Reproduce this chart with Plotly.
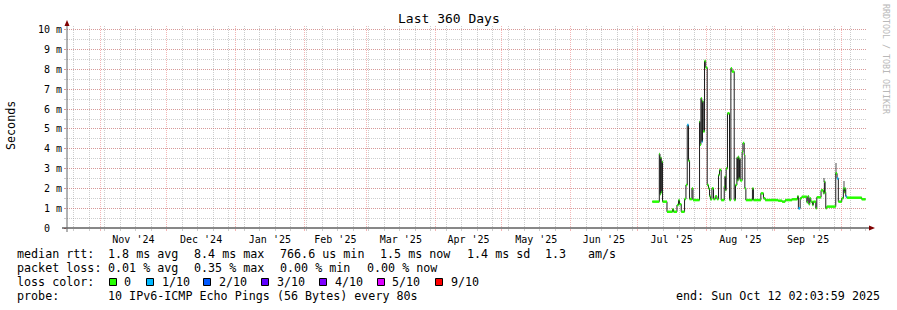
import plotly.graph_objects as go

# ---------------- data ----------------
range_start = "2024-10-17 02:03:59"
range_end = "2025-10-12 02:03:59"

times = [
    "2025-07-07 19:00", "2025-07-10 23:00", "2025-07-11 06:00", "2025-07-11 13:00",
    "2025-07-11 20:00", "2025-07-12 03:00", "2025-07-12 10:00", "2025-07-14 10:00",
    "2025-07-16 22:00", "2025-07-17 09:00", "2025-07-18 22:00", "2025-07-19 15:00",
    "2025-07-20 02:00", "2025-07-20 20:00", "2025-07-22 08:00", "2025-07-22 23:00",
    "2025-07-23 13:00", "2025-07-24 03:00", "2025-07-24 14:00", "2025-07-25 16:00",
    "2025-07-26 03:00", "2025-07-29 02:00", "2025-07-29 07:00", "2025-07-29 17:00",
    "2025-07-30 02:00", "2025-07-30 10:00", "2025-07-30 18:00", "2025-07-31 08:00",
    "2025-07-31 21:00", "2025-08-01 13:00", "2025-08-02 03:00", "2025-08-02 14:00",
    "2025-08-03 01:00", "2025-08-03 16:00", "2025-08-04 09:00", "2025-08-05 04:00",
    "2025-08-05 22:00", "2025-08-06 15:00", "2025-08-07 02:00", "2025-08-07 20:00",
    "2025-08-09 05:00", "2025-08-09 12:00", "2025-08-09 19:00", "2025-08-10 02:00",
    "2025-08-10 16:00", "2025-08-11 14:00", "2025-08-12 05:00", "2025-08-12 16:00",
    "2025-08-13 17:00", "2025-08-14 07:00", "2025-08-14 22:00", "2025-08-15 04:00",
    "2025-08-15 12:00", "2025-08-15 19:00", "2025-08-16 02:00", "2025-08-16 10:00",
    "2025-08-17 07:00", "2025-08-17 15:00", "2025-08-18 05:00", "2025-08-18 12:00",
    "2025-08-18 23:00", "2025-08-21 22:00", "2025-08-22 09:00", "2025-08-25 17:00",
    "2025-08-26 21:00", "2025-08-27 16:00", "2025-09-02 12:00", "2025-09-04 07:00",
    "2025-09-05 16:00", "2025-09-08 19:00", "2025-09-11 05:00", "2025-09-11 15:00",
    "2025-09-12 10:00", "2025-09-13 04:00", "2025-09-15 10:00", "2025-09-15 21:00",
    "2025-09-16 08:00", "2025-09-16 18:00", "2025-09-17 05:00", "2025-09-17 23:00",
    "2025-09-18 09:00", "2025-09-19 11:00", "2025-09-19 22:00", "2025-09-21 20:00",
    "2025-09-22 21:00", "2025-09-23 08:00", "2025-09-23 16:00", "2025-09-23 23:00",
    "2025-09-24 10:00", "2025-09-28 11:00", "2025-09-29 01:00", "2025-09-29 15:00",
    "2025-10-01 04:00", "2025-10-01 21:00", "2025-10-02 08:00", "2025-10-02 16:00",
    "2025-10-02 23:00", "2025-10-03 10:00", "2025-10-10 04:00", "2025-10-11 21:00",
]

median_ms = [
    1.33, 3.74, 1.70, 3.55,
    1.80, 3.35, 1.33, 0.82,
    0.95, 0.82, 1.16, 1.41,
    1.20, 0.82, 1.46, 2.17,
    5.20, 3.40, 1.46, 2.00,
    1.41, 5.37, 4.20, 6.55,
    4.36, 6.40, 4.87, 8.43,
    8.10, 2.17, 2.00, 1.60,
    1.45, 2.00, 1.46, 1.60,
    1.46, 2.68, 2.93, 1.41,
    2.10, 2.60, 1.90, 3.01,
    5.79, 1.41, 8.07, 7.90,
    1.41, 2.17, 3.55, 2.40,
    3.60, 2.50, 3.50, 2.40,
    3.85, 4.29, 3.69, 2.00,
    1.41, 2.00, 1.41, 1.75,
    1.50, 1.41, 1.38, 1.33,
    1.41, 1.45, 1.60, 0.99,
    1.50, 1.58, 1.30, 1.60,
    1.20, 1.50, 1.33, 1.16,
    1.33, 1.00, 1.55, 1.90,
    1.75, 2.34, 1.80, 1.00,
    1.08, 2.76, 2.50, 1.33,
    1.50, 2.00, 1.80, 2.00,
    1.60, 1.53, 1.45, 1.45,
]

# packet loss (tenths) per sample
loss_tenths = [0] * len(median_ms)
for _i in (16, 24, 71, 90, 96):
    loss_tenths[_i] = 1

smoke_times = ["2025-09-23 08:00", "2025-09-28 11:00", "2025-10-02 08:00"]
smoke_lo = [2.30, 2.70, 2.00]
smoke_hi = [2.55, 3.30, 2.36]

loss_labels = ["0", "1/10", "2/10", "3/10", "4/10", "5/10", "9/10"]
loss_colors = ["#26ff00", "#00b8ff", "#0059ff", "#5e00ff", "#7e00ff", "#dd00ff", "#ff0000"]
loss_index = [0, 1, 2, 3, 4, 5, 9]

y_tickvals = [0, 1, 2, 3, 4, 5, 6, 7, 8, 9, 10]
y_ticktext = ["0\u00a0\u00a0", "1 m", "2 m", "3 m", "4 m", "5 m", "6 m", "7 m", "8 m", "9 m", "10 m"]

# ---------------- layout geometry ----------------
W, H = 897, 310
L, R, T, B = 67, 866, 26, 228
FONT = "DejaVu Sans Mono"
MGRID = "rgba(228,90,90,0.45)"
GRID = "rgba(150,150,150,0.48)"


def px(x):
    return (x - L) / (R - L)


def py(y):
    return (B - y) / (B - T)


fig = go.Figure()

# smoke
fig.add_trace(go.Bar(
    x=smoke_times, y=[h - l for h, l in zip(smoke_hi, smoke_lo)], base=smoke_lo,
    width=[0.9 * 86400000] * len(smoke_times),
    marker=dict(color="rgba(0,0,0,0.35)", line=dict(width=0)),
    hoverinfo="skip", showlegend=False,
))

# median step line (dark)
fig.add_trace(go.Scatter(
    x=times, y=median_ms, mode="lines", line=dict(color="#1e1e1e", width=1, shape="hv"),
    hoverinfo="skip", showlegend=False,
))

# loss-coloured median segments
for lvl, col in zip(loss_index, loss_colors):
    sx, sy = [], []
    for i in range(len(times) - 1):
        if loss_tenths[i] == lvl:
            sx += [times[i], times[i + 1], None]
            sy += [median_ms[i], median_ms[i], None]
    if sx:
        fig.add_trace(go.Scatter(
            x=sx, y=sy, mode="lines", line=dict(color=col, width=2.5),
            hoverinfo="skip", showlegend=False,
        ))

fig.update_layout(
    width=W, height=H,
    margin=dict(l=L, r=W - R, t=T, b=H - B, pad=0),
    paper_bgcolor="white", plot_bgcolor="white",
    showlegend=False, bargap=0,
    font=dict(family=FONT, size=10, color="#000"),
    xaxis=dict(
        type="date", range=[range_start, range_end],
        dtick="M1", tick0="2024-11-01", ticklabelmode="period", tickformat="%b '%y",
        showgrid=True, gridcolor=MGRID, griddash="1px,1px", gridwidth=1,
        ticks="outside", ticklen=2, tickcolor=MGRID,
        minor=dict(dtick=7 * 86400000, tick0="2024-10-20", showgrid=True, gridcolor=GRID,
                   griddash="1px,1px", ticks="outside", ticklen=2, tickcolor=GRID),
        showline=False, zeroline=False,
        tickfont=dict(family=FONT, size=10, color="#000"),
    ),
    yaxis=dict(
        range=[0, 10.2], tickvals=y_tickvals, ticktext=y_ticktext,
        showgrid=True, gridcolor=MGRID, griddash="1px,1px", gridwidth=1,
        ticks="outside", ticklen=2, tickcolor=MGRID,
        minor=dict(dtick=0.5, showgrid=True, gridcolor=GRID, griddash="1px,1px",
                   ticks="outside", ticklen=2, tickcolor=GRID),
        showline=False, zeroline=False,
        tickfont=dict(family=FONT, size=10, color="#000"),
    ),
)

shapes = []
# axes
shapes.append(dict(type="line", xref="paper", yref="paper", x0=px(62), x1=px(870), y0=0, y1=0,
                   line=dict(color="#111", width=1), layer="above"))
shapes.append(dict(type="line", xref="paper", yref="paper", x0=0, x1=0, y0=py(232), y1=py(23),
                   line=dict(color="#666", width=1), layer="above"))
# arrows
shapes.append(dict(type="path", xref="paper", yref="paper",
                   path=f"M {px(64.5)},{py(26)} L {px(69.5)},{py(26)} L {px(67)},{py(20)} Z",
                   fillcolor="#7f0000", line=dict(width=0), layer="above"))
shapes.append(dict(type="path", xref="paper", yref="paper",
                   path=f"M {px(869)},{py(225.5)} L {px(869)},{py(230.5)} L {px(875)},{py(228)} Z",
                   fillcolor="#7f0000", line=dict(width=0), layer="above"))

ann = []


def text(x, y, s, anchor="left", size=11.7, color="#000", angle=0):
    ann.append(dict(x=px(x), y=py(y), xref="paper", yref="paper", text=s, showarrow=False,
                    xanchor=anchor, yanchor="middle", borderpad=0, textangle=angle,
                    font=dict(family=FONT, size=size, color=color)))


def nb(s):
    return s.replace(" ", "\u00a0")


# title
text(448.5, 19, "Last 360 Days", anchor="center", size=13)
# y title
text(11, 126, "Seconds", anchor="center", size=11.7, angle=-90)
# watermark
ann.append(dict(x=px(886), y=py(59), xref="paper", yref="paper", text=nb("RRDTOOL / TOBI OETIKER"),
                showarrow=False, xanchor="center", yanchor="middle", textangle=90, borderpad=0,
                font=dict(family=FONT, size=8.3, color="#b8b8b8")))

# legend rows
row1 = [("median rtt:", 16), ("1.8 ms avg", 107), ("8.4 ms max", 193), ("766.6 us min", 279),
        ("1.5 ms now", 379), ("1.4 ms sd", 466), ("1.3", 544), ("am/s", 587)]
row2 = [("packet loss:", 16), ("0.01 % avg", 107), ("0.35 % max", 193), ("0.00 % min", 279),
        ("0.00 % now", 366)]
for s, x in row1:
    text(x, 254, nb(s))
for s, x in row2:
    text(x, 268, nb(s))
text(16, 282, nb("loss color:"))
box_x = [109, 146, 203, 261, 319, 377, 435]
lab_x = [123, 161, 218, 276, 334, 391, 450]
for lab, col, bx, lx in zip(loss_labels, loss_colors, box_x, lab_x):
    shapes.append(dict(type="rect", xref="paper", yref="paper", x0=px(bx + 0.5), x1=px(bx + 7.5),
                       y0=py(278.5), y1=py(285.5), fillcolor=col, line=dict(color="#000", width=1)))
    text(lx, 282, nb(lab))
text(16, 296, nb("probe:"))
text(107, 296, nb("10 IPv6-ICMP Echo Pings (56 Bytes) every 80s"))
text(881, 296, nb("end: Sun Oct 12 02:03:59 2025"), anchor="right")

fig.update_layout(shapes=shapes, annotations=ann)
fig.write_html("out.html")
